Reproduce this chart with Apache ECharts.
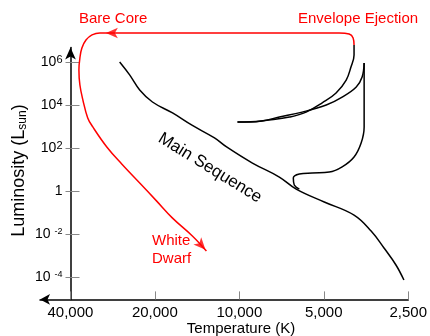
<!DOCTYPE html>
<html>
<head>
<meta charset="utf-8">
<script src="https://cdn.jsdelivr.net/npm/echarts@6/dist/echarts.min.js"></script>
<style>
html, body { margin: 0; padding: 0; background: #fff; }
#hr { width: 430px; height: 336px; }
</style>
</head>
<body>
<div id="hr"></div>
<script>
// tick values
var tempTicks = [40000, 20000, 10000, 5000, 2500];
var lumTicks = [6, 4, 2, 0, -2, -4];

// tracks: [temperature (K), log10 L/Lsun]
var mainSequence = [
    [26700, 6.00], [24600, 5.40], [22650, 4.70], [20400, 4.14], [17300, 3.63],
    [14700, 3.05], [12260, 2.47], [11100, 2.05], [8980, 1.30], [7200, 0.65],
    [6270, 0.09], [4980, -0.51], [3900, -1.12], [3390, -1.86], [3050, -2.65],
    [2765, -3.44], [2590, -4.14]
];
var redGiant = [
    [6110, 0.09], [6370, 0.28], [6420, 0.60], [6110, 0.79], [5500, 0.84],
    [4780, 0.88], [4300, 1.12], [3900, 1.58], [3680, 2.23], [3590, 2.98],
    [3590, 4.37], [3590, 5.95]
];
var descent = [
    [3590, 5.95], [3650, 5.30], [3830, 4.84], [4300, 4.37], [4900, 4.00],
    [5970, 3.67], [7200, 3.44], [8350, 3.26], [10150, 3.21]
];
var agb = [
    [10150, 3.21], [9210, 3.21], [7820, 3.30], [6630, 3.44], [5780, 3.67],
    [5050, 4.11], [4520, 4.56], [4160, 5.16], [4000, 5.77], [3900, 6.33],
    [3900, 6.79]
];
var ejection = [
    [3900, 6.79], [3930, 7.12], [4060, 7.30], [4410, 7.35], [31400, 7.35],
    [33500, 7.26], [35200, 7.02], [36400, 6.65], [37000, 6.19], [37300, 5.63],
    [37000, 4.93], [36100, 4.23], [34700, 3.40], [33280, 2.98], [29670, 2.05],
    [26250, 1.26], [22470, 0.33], [19700, -0.47], [17300, -1.26], [14700, -2.09],
    [13100, -2.79]
];
// arrow heads: [temperature, log L, rotation]
var arrows = [[29900, 7.35, 90], [13200, -2.73, 223]];

function tx(t) { return Math.log2(40000 / t); }
function toXY(arr) {
    return arr.map(function (p) { return [tx(p[0]), p[1]]; });
}
function commas(n) {
    return String(n).replace(/\B(?=(\d{3})+(?!\d))/g, ',');
}

var font = 'Liberation Sans, Arial, sans-serif';
var myChart = echarts.init(document.getElementById('hr'));

function track(data, color) {
    return {
        type: 'line',
        data: toXY(data),
        smooth: 0.4,
        symbol: 'none',
        clip: false,
        lineStyle: { color: color, width: 1.5 },
        silent: true
    };
}

var option = {
    animation: false,
    grid: { left: 40, right: 20.7, top: 47.6, bottom: 36.6 },
    xAxis: {
        type: 'value',
        min: -0.36,
        max: 4,
        axisLine: {
            onZero: false,
            symbol: ['arrow', 'none'],
            symbolSize: [8, 10],
            lineStyle: { color: '#000', width: 1.5 }
        },
        axisTick: {
            inside: true,
            length: 8,
            customValues: tempTicks.map(tx),
            lineStyle: { color: '#888' }
        },
        axisLabel: {
            customValues: tempTicks.map(tx),
            margin: 6,
            color: '#000',
            fontSize: 15,
            fontFamily: font,
            formatter: function (v) {
                return commas(Math.round(40000 / Math.pow(2, v)));
            }
        },
        splitLine: { show: false }
    },
    yAxis: [{
        type: 'value',
        position: 'left',
        offset: -30.5,
        min: -5.04,
        max: 6.67,
        axisLine: {
            onZero: false,
            symbol: ['none', 'arrow'],
            symbolSize: [8, 12],
            lineStyle: { color: '#000', width: 1.5 }
        },
        axisTick: {
            inside: true,
            length: 9,
            customValues: lumTicks,
            lineStyle: { color: '#888' }
        },
        axisLabel: {
            customValues: lumTicks,
            margin: 8,
            formatter: function (v) {
                if (v === 0) return '{b|1}';
                if (v > 0) return '{b|10}{p|' + v + '}';
                return '{b|10 }{n|' + v + '}';
            },
            rich: {
                b: { fontSize: 14, lineHeight: 15, color: '#000', fontFamily: font },
                p: { fontSize: 11, color: '#000', fontFamily: font, verticalAlign: 'top' },
                n: { fontSize: 9, color: '#000', fontFamily: font, verticalAlign: 'top' }
            }
        },
        splitLine: { show: false }
    }, {
        // outer stubs of the y ticks
        type: 'value',
        position: 'left',
        offset: -30.5,
        min: -5.04,
        max: 6.67,
        axisLine: { show: false, onZero: false },
        axisTick: {
            length: 5,
            customValues: lumTicks,
            lineStyle: { color: '#888' }
        },
        axisLabel: { show: false },
        splitLine: { show: false }
    }],
    graphic: [
        { type: 'text', x: 79, y: 19, style: { text: 'Bare Core', fill: '#f00', font: '15px ' + font, verticalAlign: 'middle' } },
        { type: 'text', x: 298, y: 19, style: { text: 'Envelope Ejection', fill: '#f00', font: '15px ' + font, verticalAlign: 'middle' } },
        { type: 'text', x: 152, y: 250, style: { text: 'White\nDwarf', fill: '#f00', font: '15px ' + font, lineHeight: 18, verticalAlign: 'middle' } },
        { type: 'text', x: 210, y: 168, rotation: -0.55, style: { text: 'Main Sequence', fill: '#000', font: '17px ' + font, align: 'center', verticalAlign: 'middle' } },
        { type: 'text', x: 241, y: 329, style: { text: 'Temperature (K)', fill: '#000', font: '15px ' + font, align: 'center', verticalAlign: 'middle' } },
        {
            type: 'text', x: 19, y: 170.5, rotation: Math.PI / 2,
            style: {
                text: '{a|Luminosity (L}{s|sun}{a|)}',
                align: 'center', verticalAlign: 'middle',
                rich: {
                    a: { fontSize: 18, lineHeight: 20, fill: '#000', fontFamily: font },
                    s: { fontSize: 12, fill: '#000', fontFamily: font, verticalAlign: 'bottom' }
                }
            }
        }
    ],
    series: [
        track(mainSequence, '#000'),
        track(redGiant, '#000'),
        track(descent, '#000'),
        track(agb, '#000'),
        track(ejection, '#f00'),
        {
            type: 'scatter',
            clip: false,
            silent: true,
            symbol: 'arrow',
            symbolSize: [8, 12],
            itemStyle: { color: '#f00' },
            data: arrows.map(function (a) {
                return { value: [tx(a[0]), a[1]], symbolRotate: a[2] };
            })
        }
    ]
};
myChart.setOption(option);
</script>
</body>
</html>
